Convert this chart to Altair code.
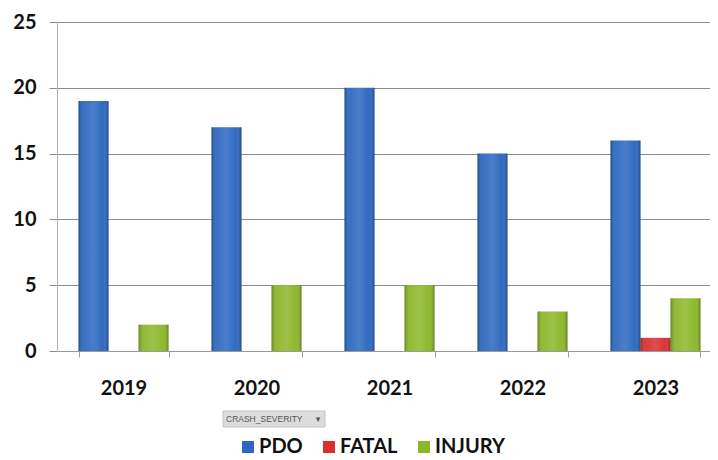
import altair as alt
import pandas as pd

years = ["2019", "2020", "2021", "2022", "2023"]
severities = ["PDO", "FATAL", "INJURY"]
pdo = [19, 17, 20, 15, 16]
fatal = [0, 0, 0, 0, 1]
injury = [2, 5, 5, 3, 4]
colors = ["#2c68c0", "#d9302f", "#8cb72a"]
y_ticks = [0, 5, 10, 15, 20, 25]

rows = []
for i, y in enumerate(years):
    for s, vals in zip(severities, [pdo, fatal, injury]):
        rows.append({"year": y, "severity": s, "count": vals[i]})
df = pd.DataFrame(rows)

FONT = "Lato"

x_enc = alt.X(
    "year:N",
    sort=years,
    scale=alt.Scale(paddingInner=0.323, paddingOuter=0.1617, range=[0, 665]),
    axis=alt.Axis(
        title=None, labelAngle=0, labelFont=FONT, labelFontSize=20,
        labelFontWeight="bold", labelColor="#111111", tickBand="extent",
        tickSize=6, tickColor="#9a9a9a", domainColor="#9a9a9a",
        grid=False, labelPadding=21,
    ),
)
xo_enc = alt.XOffset("severity:N", sort=severities,
                     scale=alt.Scale(paddingInner=0, paddingOuter=0))
y_enc = alt.Y(
    "count:Q",
    scale=alt.Scale(domain=[0, 25], nice=False),
    axis=alt.Axis(
        title=None, values=y_ticks, grid=True, gridColor="#8c8c8c",
        tickSize=8, tickColor="#8c8c8c", domainColor="#b0b0b0",
        labelFont=FONT, labelFontSize=20, labelFontWeight="bold",
        labelColor="#111111", labelPadding=13,
    ),
)

bars = alt.Chart(df).mark_bar().encode(
    x=x_enc, xOffset=xo_enc, y=y_enc,
    color=alt.Color(
        "severity:N", sort=severities,
        scale=alt.Scale(domain=severities, range=colors),
        legend=alt.Legend(
            title=None, orient="none", direction="horizontal",
            legendX=181, legendY=415, symbolType="square", symbolSize=144,
            symbolStrokeWidth=0, labelFont=FONT, labelFontSize=20,
            labelFontWeight="bold", labelColor="#111111", labelOffset=1,
            columnPadding=16, padding=0,
        ),
    ),
)

shine = alt.Chart(df).mark_bar(
    fill=alt.LinearGradient(
        gradient="linear", x1=0, x2=1, y1=0, y2=0,
        stops=[
            alt.GradientStop(offset=0, color="rgba(0,0,0,0.28)"),
            alt.GradientStop(offset=0.18, color="rgba(255,255,255,0.06)"),
            alt.GradientStop(offset=0.5, color="rgba(255,255,255,0.14)"),
            alt.GradientStop(offset=0.82, color="rgba(255,255,255,0.02)"),
            alt.GradientStop(offset=1, color="rgba(0,0,0,0.3)"),
        ],
    )
).encode(x=x_enc, xOffset=xo_enc, y=y_enc)

btn_df = pd.DataFrame({"label": ["CRASH_SEVERITY"], "arrow": ["▾"]})
btn_rect = alt.Chart(btn_df).mark_rect(
    fill="#dcdcdc", stroke="#c4c4c4", strokeWidth=1
).encode(x=alt.value(166), x2=alt.value(268), y=alt.value(389), y2=alt.value(405))
btn_text = alt.Chart(btn_df).mark_text(
    align="left", baseline="middle", font="Liberation Sans", fontSize=8.5,
    color="#555555"
).encode(x=alt.value(169), y=alt.value(397), text="label:N")
btn_arrow = alt.Chart(btn_df).mark_text(
    align="center", baseline="middle", font="DejaVu Sans", fontSize=9,
    color="#555555"
).encode(x=alt.value(261), y=alt.value(397), text="arrow:N")

chart = alt.layer(bars, shine, btn_rect, btn_text, btn_arrow).properties(
    width=653, height=329,
    autosize=alt.AutoSizeParams(type="none"),
    padding={"left": 49, "top": 14, "right": 0, "bottom": 108},
    background="white",
).configure_view(stroke=None)

chart.save("out.html", embed_options={"renderer": "svg", "actions": False})
